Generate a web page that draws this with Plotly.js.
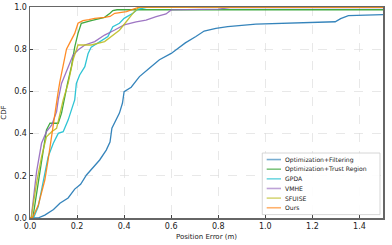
<!DOCTYPE html>
<html><head><meta charset="utf-8">
<script src="https://cdn.plot.ly/plotly-3.0.1.min.js"></script>
<style>html,body{margin:0;padding:0;background:#fff}#c{width:392px;height:245px}</style>
</head><body><div id="c"></div>
<script>
const names = ["Optimization+Filtering","Optimization+Trust Region","GPDA","VMHE","SFUISE","Ours"];
const colors = ["#1f77b4","#2ca02c","#17becf","#9467bd","#bcbd22","#ff7f0e"];

const filtX = [0,0.034,0.063,0.10,0.127,0.162,0.19,0.215,0.24,0.27,0.296,0.324,0.34,0.348,0.365,0.38,0.393,0.40,0.43,0.465,0.507,0.55,0.6,0.66,0.705,0.74,0.79,0.84,0.96,1.1,1.297,1.32,1.353,1.5];
const filtY = [0,0,0.014,0.04,0.07,0.095,0.137,0.16,0.204,0.24,0.275,0.322,0.36,0.426,0.46,0.497,0.545,0.599,0.62,0.67,0.71,0.75,0.78,0.83,0.86,0.886,0.899,0.907,0.919,0.924,0.93,0.945,0.959,0.964];

const trustX = [0,0.012,0.035,0.056,0.07,0.085,0.12,0.134,0.145,0.16,0.176,0.19,0.204,0.218,0.26,0.317,0.34,0.352,0.37,1.5];
const trustY = [0,0,0.166,0.322,0.417,0.45,0.449,0.497,0.56,0.64,0.717,0.81,0.875,0.923,0.935,0.951,0.97,0.983,0.987,0.987];

const gpdaX = [0,0.015,0.035,0.056,0.077,0.099,0.12,0.141,0.162,0.183,0.19,0.197,0.211,0.233,0.247,0.26,0.296,0.331,0.352,0.38,0.40,0.437,0.458,0.5,1.5];
const gpdaY = [0,0,0.054,0.166,0.29,0.354,0.401,0.409,0.464,0.536,0.56,0.638,0.678,0.717,0.78,0.81,0.836,0.86,0.907,0.923,0.946,0.97,0.989,1.0,1.0];

const vmheX = [0,0.005,0.028,0.049,0.07,0.092,0.113,0.12,0.134,0.162,0.183,0.204,0.233,0.275,0.317,0.36,0.40,0.451,0.493,0.536,0.578,0.6,0.8,0.85,1.5];
const vmheY = [0,0,0.22,0.354,0.409,0.44,0.504,0.56,0.638,0.717,0.772,0.796,0.82,0.836,0.867,0.891,0.915,0.93,0.938,0.954,0.967,0.986,0.99,0.997,0.997];

const sfuiseX = [0,0.005,0.028,0.049,0.07,0.092,0.113,0.127,0.141,0.162,0.183,0.204,0.26,0.317,0.36,0.38,0.409,0.437,0.458,0.47,1.5];
const sfuiseY = [0,0,0.166,0.29,0.385,0.409,0.425,0.496,0.56,0.638,0.75,0.82,0.82,0.836,0.875,0.89,0.93,0.97,0.994,1.0,1.0];

const oursX = [0,0.01,0.035,0.063,0.077,0.092,0.106,0.12,0.127,0.148,0.155,0.169,0.19,0.204,0.225,0.25,0.275,0.317,0.34,0.36,0.41,0.465,1.5];
const oursY = [0,0,0.06,0.18,0.275,0.393,0.51,0.6,0.646,0.757,0.8,0.83,0.875,0.923,0.935,0.94,0.946,0.951,0.955,0.97,0.978,1.0,1.0];

const xs = [filtX,trustX,gpdaX,vmheX,sfuiseX,oursX];
const ys = [filtY,trustY,gpdaY,vmheY,sfuiseY,oursY];

const traces = names.map((n,i)=>({x:xs[i],y:ys[i],name:n,mode:'lines',type:'scatter',showlegend:false,
  opacity:0.9,line:{color:colors[i],width:1.3}}));

// compact legend (paper coordinates of the plot area)
const L = {x0:0.658,x1:0.9915,y0:0.016,y1:0.308,lx0:0.6705,lx1:0.711,tx:0.72,top:0.277,step:0.0457};
const shapes = [{type:'rect',xref:'paper',yref:'paper',x0:L.x0,x1:L.x1,y0:L.y0,y1:L.y1,
  fillcolor:'rgba(255,255,255,0.9)',line:{color:'#cccccc',width:0.8},layer:'above'}];
const annotations = [];
names.forEach((n,i)=>{
  const yy = L.top - i*L.step;
  shapes.push({type:'line',xref:'paper',yref:'paper',x0:L.lx0,x1:L.lx1,y0:yy,y1:yy,
    line:{color:colors[i],width:1.6},opacity:0.6,layer:'above'});
  annotations.push({xref:'paper',yref:'paper',x:L.tx,y:yy,text:n,showarrow:false,xanchor:'left',yanchor:'middle',
    borderpad:0,font:{size:6.1,color:'#222',family:'DejaVu Sans'}});
});

const ax = {showline:true,linecolor:'#666',linewidth:1.5,mirror:true,ticks:'inside',ticklen:3,tickcolor:'#444',
  showgrid:true,gridcolor:'#d9d9d9',griddash:'dash',gridwidth:0.6,zeroline:false,
  tickfont:{size:8,color:'#222',family:'DejaVu Sans'}};

const layout = {width:392,height:245,margin:{l:30,r:9,t:7,b:27},paper_bgcolor:'#fff',plot_bgcolor:'#fff',
  font:{family:'DejaVu Sans',size:8,color:'#222'},
  xaxis:Object.assign({},ax,{range:[0,1.5],tickvals:[0,0.2,0.4,0.6,0.8,1.0,1.2,1.4],ticktext:['0.0','0.2','0.4','0.6','0.8','1.0','1.2','1.4'],
    title:{text:'Position Error (m)',font:{size:7},standoff:4}}),
  yaxis:Object.assign({},ax,{range:[0,1.0],tickvals:[0,0.2,0.4,0.6,0.8,1.0],ticktext:['0.0','0.2','0.4','0.6','0.8','1.0'],
    title:{text:'CDF',font:{size:7},standoff:6}}),
  shapes:shapes, annotations:annotations, showlegend:false};

Plotly.newPlot('c',traces,layout,{staticPlot:true,displayModeBar:false});
</script></body></html>
